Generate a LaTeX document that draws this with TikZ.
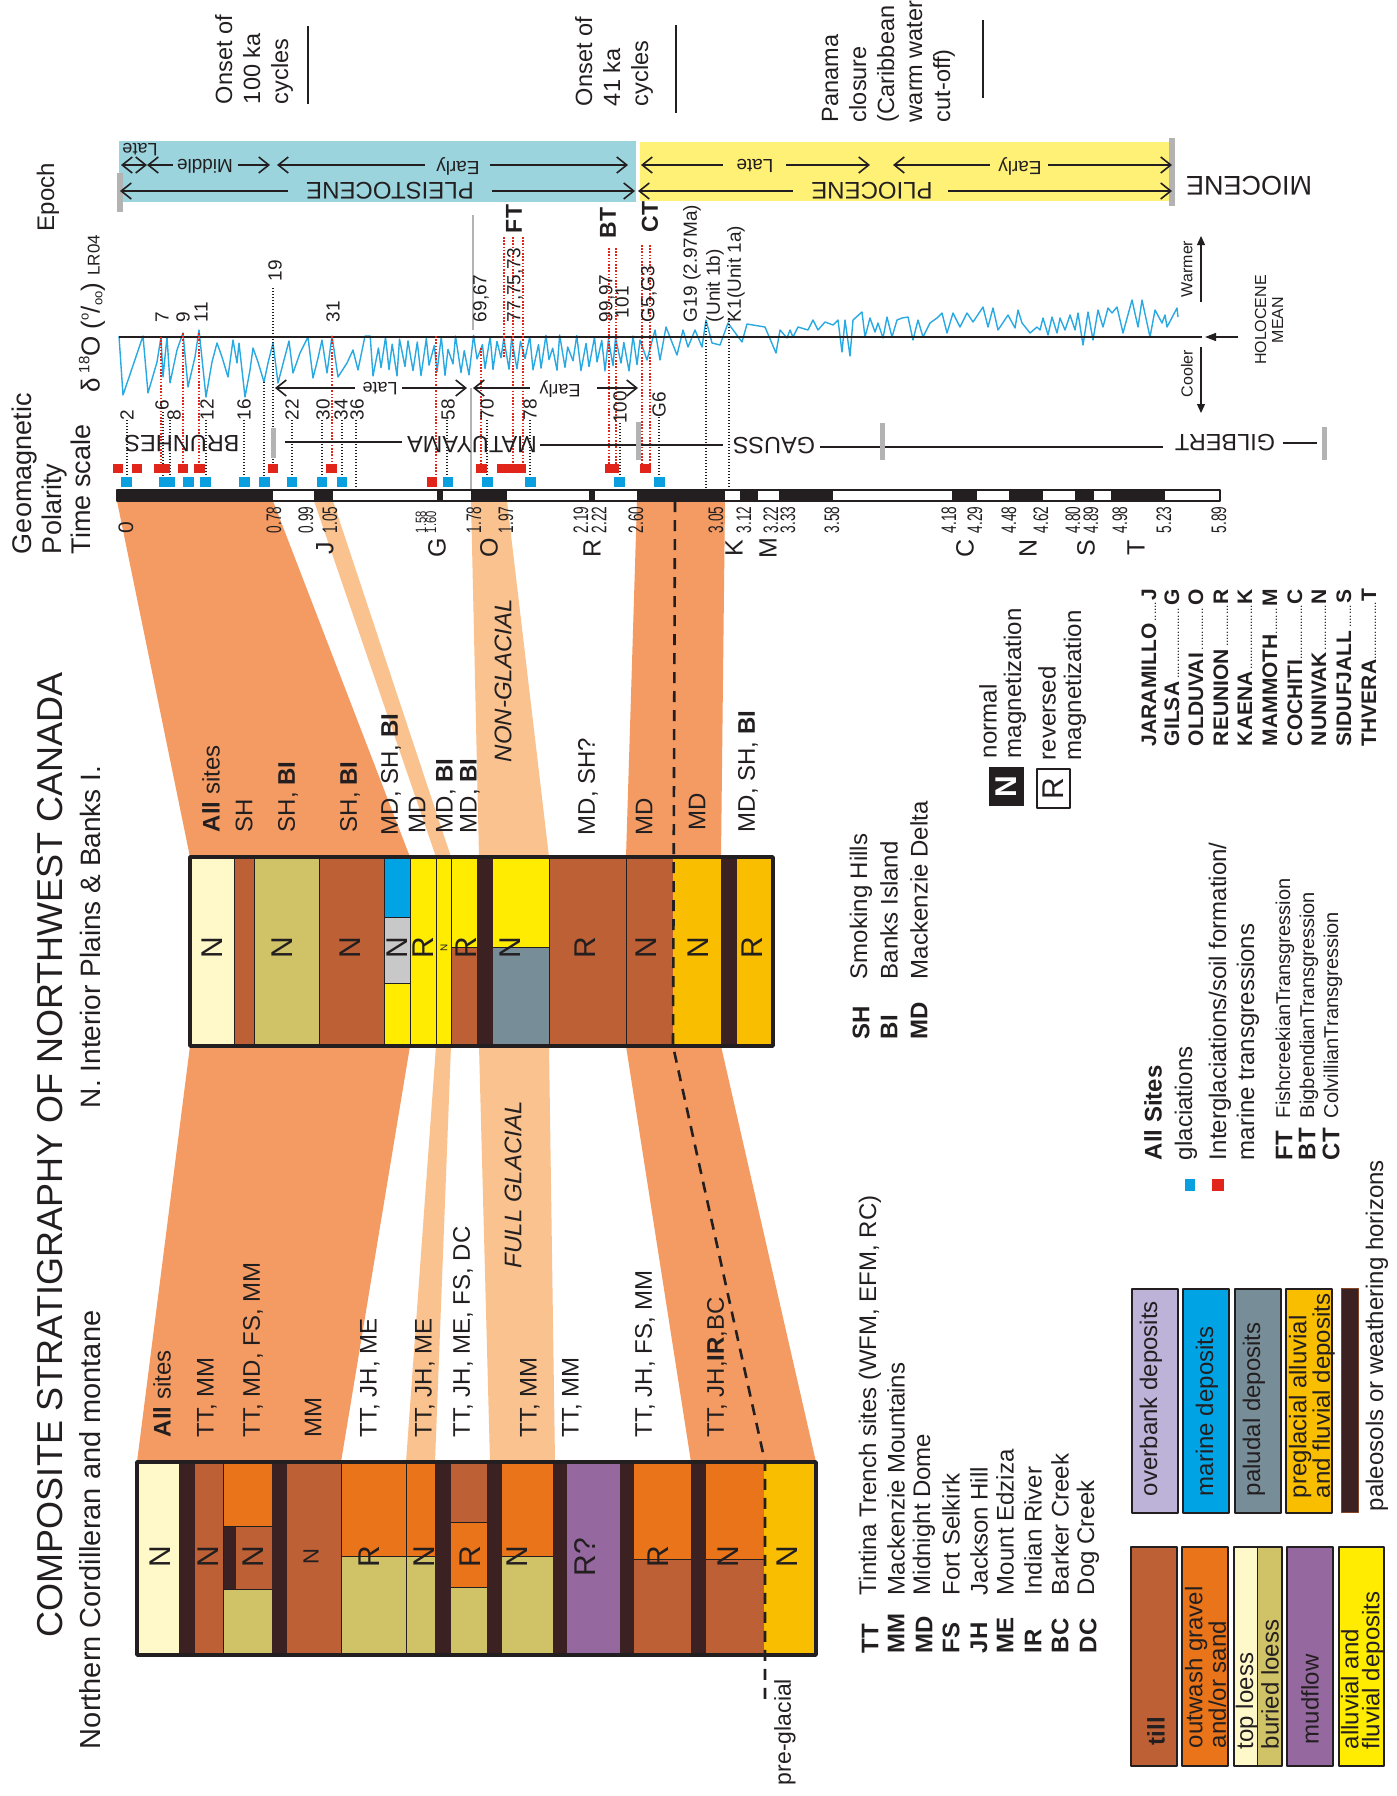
\documentclass[tikz,border=0pt]{standalone}
\usepackage{fontspec}
\setmainfont{Liberation Sans}
\usepackage{graphicx}
\usetikzlibrary{arrows.meta}
\newcommand{\fsz}[2]{\fontsize{#1pt}{#2pt}\selectfont}
\newcommand{\lead}{\leaders\hbox to 3.2pt{\hss\mdseries\fsz{12}{12}.\hss}\hfill}
\definecolor{ink}{HTML}{231F20}
\definecolor{bandD}{HTML}{F39B63}
\definecolor{bandL}{HTML}{F9C28E}
\definecolor{pleis}{HTML}{9BD4DD}
\definecolor{plio}{HTML}{FFF176}
\definecolor{curveB}{HTML}{29A9E1}
\definecolor{mblue}{HTML}{0AA0E0}
\definecolor{mred}{HTML}{E1251B}
\definecolor{till}{HTML}{BE6035}
\definecolor{outw}{HTML}{E97419}
\definecolor{loessT}{HTML}{FFF9CA}
\definecolor{loessB}{HTML}{CFC267}
\definecolor{mud}{HTML}{95689F}
\definecolor{alluv}{HTML}{FFEC00}
\definecolor{overb}{HTML}{BDB2D7}
\definecolor{marine}{HTML}{00A4E4}
\definecolor{palud}{HTML}{778E99}
\definecolor{pregl}{HTML}{F9BE00}
\definecolor{paleo}{HTML}{3B2122}
\definecolor{lgray}{HTML}{C8C8C8}
\definecolor{gbar}{HTML}{B3B3B3}
\tikzset{
 txb/.style={inner sep=0pt, outer sep=0pt, text=ink},
 txu/.style={txb, rotate=90, anchor=west},
 txc/.style={txb, rotate=90},
 txd/.style={txb, rotate=180},
 txm/.style={txb, rotate=90, anchor=north west, align=left},
 F/.style={font={\fsz{#1}{#1}}},
 FB/.style={font={\bfseries\fsz{#1}{#1}}},
 FI/.style={font={\itshape\fsz{#1}{#1}}},
 barbR/.style={ink, line width=1.6pt, -{Straight Barb[length=10pt,width=16pt]}},
 barbL/.style={ink, line width=1.6pt, {Straight Barb[length=10pt,width=16pt]}-},
 barbB/.style={ink, line width=1.6pt, {Straight Barb[length=10pt,width=16pt]}-{Straight Barb[length=10pt,width=16pt]}},
 dotk/.style={ink, line width=1.1pt, dash pattern=on 1.2pt off 1.8pt},
 dotr/.style={mred, line width=1.1pt, dash pattern=on 1.6pt off 1.6pt},
 thinl/.style={ink, line width=1pt},
 frame/.style={ink, line width=3.5pt},
 lbox/.style={draw=ink, line width=1.2pt},
}
\begin{document}
\begin{tikzpicture}[x=1pt,y=-1pt,line join=round]
\useasboundingbox (0,0) rectangle (1397,1796);
\fill[white] (0,0) rectangle (1397,1796);

% ================= headers =================
\node[txm,font={\fsz{27}{29.5}}] (hdrgeo) at (12,554) {Geomagnetic\\Polarity\\Time scale};
\node[txu,F=26] (hdrd) at (92,392) {δ\,\raisebox{0.75ex}{\fsz{15}{15}18}O (\raisebox{0.8ex}{\fsz{13}{13}o}/\raisebox{-0.2ex}{\fsz{13}{13}oo}) {\fsz{17}{17}LR04}};
\node[txc,F=24] (hdrep) at (48,197) {Epoch};

% ================= onset texts =================
\node[txm,font={\fsz{23.5}{28}}] (on100) at (215,104) {Onset of\\100 ka\\cycles};
\draw[ink,line width=2.5pt] (308,26) -- (308,104);
\node[txm,font={\fsz{23.5}{28}}] (on41) at (575,106) {Onset of\\41 ka\\cycles};
\draw[ink,line width=2.5pt] (676,25) -- (676,113);
\node[txm,font={\fsz{23.5}{28}}] (pan) at (822,122) {Panama\\closure\\(Caribbean\\warm water\\cut-off)};
\draw[ink,line width=2.5pt] (983,20) -- (983,98);

% ================= epoch bar =================
\fill[pleis] (119,141) rectangle (636,202);
\fill[plio] (640,142) rectangle (1170,201);
\fill[gbar] (117,173) rectangle (123,212);
\fill[gbar] (1169,138) rectangle (1175,206);
\node[txd,F=18] (epl) at (140,150) {Late};
\draw[barbB] (121,165) -- (147,165);
\draw[barbL] (147,165) -- (173,165);
\node[txd,F=19] (epm) at (205,166) {Middle};
\draw[barbR] (238,165) -- (270,165);
\draw[barbL] (277,165) -- (425,165);
\node[txd,F=19] (epe) at (458,166) {Early};
\draw[barbR] (490,165) -- (628,165);
\draw[barbL] (120,191) -- (288,191);
\node[txd,F=24] (epp) at (390,191) {PLEISTOCENE};
\draw[barbR] (492,191) -- (635,191);
\draw[barbL] (641,165) -- (723,165);
\node[txd,F=19] (ppl) at (755,166) {Late};
\draw[barbR] (786,165) -- (870,165);
\draw[barbL] (893,165) -- (990,165);
\node[txd,F=19] (ppe) at (1020,166) {Early};
\draw[barbR] (1048,165) -- (1172,165);
\draw[barbL] (638,191) -- (793,191);
\node[txd,F=24] (ppp) at (872,191) {PLIOCENE};
\draw[barbR] (948,191) -- (1172,191);
\node[txd,F=27] (mio) at (1249,186) {MIOCENE};

% ================= d18O =================
\draw[gbar,line width=2.5pt] (473,215) -- (473,330);
\draw[gbar,line width=2.5pt] (471,388) -- (471,490);
\draw[curveB,line width=1.4pt] (119,336) -- (123,395) -- (143,336) -- (148,393) -- (157,362) -- (161,337) -- (163,377) -- (167,337) -- (170,383) -- (177,350) -- (183,333) -- (188,387) -- (195,357) -- (199,330) -- (206,397) -- (212,362) -- (217,343) -- (222,357) -- (228,377) -- (233,340) -- (237,363) -- (239,343) -- (245,397) -- (250,370) -- (253,348) -- (258,362) -- (264,382) -- (268,363) -- (273,343) -- (278,383) -- (284,360) -- (289,341) -- (293,373) -- (300,353) -- (308,337) -- (313,378) -- (318,358) -- (322,340) -- (327,373) -- (332,336) -- (338,377) -- (347,363) -- (353,350) -- (358,370) -- (365,336)
 \foreach \k [evaluate=\k as \xa using 361+8*\k+1.5*sin(53*\k),
              evaluate=\k as \xb using 365+8*\k,
              evaluate=\k as \cc using 356-3*(\xb>470),
              evaluate=\k as \aa using 20-2*(\xb>470),
              evaluate=\k as \ya using \cc-\aa*(0.2+0.8*abs(sin(97.3*\k))),
              evaluate=\k as \yb using \cc+\aa*(0.25+0.75*abs(sin(61.7*\k+30)))] in {1,...,34} { -- (\xa,\ya) -- (\xb,\yb) }
 -- (640,340) -- (647,360) -- (655,330) -- (660,360) -- (666,327) -- (677,355) -- (683,330) -- (688,347) -- (695,330) -- (702,347) -- (706,320) -- (712,343) -- (720,345) -- (728,323) -- (742,342) -- (747,324) -- (765,327) -- (776,353) -- (780,330) -- (787,338) -- (790,330) -- (793,337) -- (798,327) -- (808,330) -- (813,320) -- (818,330) -- (825,322) -- (833,325) -- (838,320) -- (842,352) -- (845,320) -- (850,356) -- (853,320) -- (862,312) -- (865,337) -- (870,318) -- (875,332) -- (878,323) -- (883,338) -- (887,317) -- (892,337) -- (897,320) -- (902,318) -- (908,317) -- (913,340) -- (918,320) -- (923,337) -- (930,323) -- (937,318) -- (942,313) -- (947,333) -- (953,313) -- (960,327) -- (967,313) -- (973,322) -- (983,307) -- (988,327) -- (993,308) -- (998,330) -- (1008,315) -- (1015,328) -- (1018,310) -- (1022,323) -- (1030,333) -- (1037,327) -- (1040,330) -- (1043,318) -- (1048,335) -- (1052,317) -- (1057,333) -- (1060,318) -- (1065,330) -- (1070,315) -- (1075,330) -- (1078,313) -- (1083,345) -- (1088,312) -- (1093,340) -- (1098,310) -- (1103,327) -- (1108,308) -- (1112,313) -- (1117,307) -- (1123,333) -- (1132,300) -- (1138,327) -- (1142,300) -- (1150,337) -- (1155,310) -- (1162,323) -- (1165,315) -- (1167,327) -- (1177,308) -- (1178,317);
\draw[ink,line width=1.3pt] (119,337) -- (1202,337);
\draw[ink,line width=1.3pt,-{Triangle[length=9pt,width=8pt]}] (1201,302) -- (1201,236);
\draw[ink,line width=1.3pt,-{Triangle[length=9pt,width=8pt]}] (1201,347) -- (1201,413);
\draw[ink,line width=1.3pt,-{Triangle[length=11pt,width=8pt]}] (1238,337) -- (1205,337);
\node[txu,F=16] (warm) at (1187,297) {Warmer};
\node[txu,F=16] (cool) at (1187,397) {Cooler};
\node[txc,align=center,font={\fsz{16}{17}}] (holo) at (1269,320) {HOLOCENE\\MEAN};

% MIS dotted lines
\foreach \x/\a/\b in {161/337/464, 183/333/464, 199/333/464, 332/336/464, 436/336/477, 481/348/464, 504/237/358, 513/237/464, 523/237/464, 609/248/464, 616/248/464, 642/245/464, 650/245/464}
  \draw[dotr] (\x,\a) -- (\x,\b);
\foreach \x/\a/\b in {127/420/477, 163/412/477, 170/420/477, 206/420/477, 244/420/477, 264/382/477, 273/288/464, 292/420/477, 322/420/477, 342/420/477, 356/420/490, 447/420/477, 487/420/477, 530/420/477, 620/423/477, 659/417/477, 706/322/490, 729/318/490}
  \draw[dotk] (\x,\a) -- (\x,\b);
% MIS labels
\foreach \x/\y/\t in {162/322/7, 183/322/9, 201/322/11, 275/281/19, 333/322/31, 481/322/{69,67}, 515/322/{77,75,73}, 607/322/{99,97}, 622/318/101, 649/322/{G5,G3}, 692/322/{G19 (2.97Ma)}, 715/322/{(Unit 1b)}, 736/322/{K1(Unit 1a)}}
  \node[txu,F=19] at (\x,\y) {\t};
\foreach \x/\y/\t in {127/420/2, 162/410/6, 174/420/8, 207/420/12, 244/420/16, 292/420/22, 323/420/30, 341/420/34, 357/420/36, 448/420/58, 487/420/70, 530/420/78, 620/423/100, 659/417/G6}
  \node[txu,F=19] at (\x,\y) {\t};
\node[txu,FB=23] (ft) at (514,233) {FT};
\node[txu,FB=23] (bt) at (608,238) {BT};
\node[txu,FB=23] (ct) at (650,232) {CT};

% Matuyama late/early
\draw[barbL] (275,388) -- (355,388);
\node[txd,F=18] (mlate) at (380,389) {Late};
\draw[barbR] (402,388) -- (467,388);
\draw[barbL] (473,388) -- (530,388);
\node[txd,F=18] (mearly) at (560,389) {Early};
\draw[barbR] (597,388) -- (638,388);

% polarity chron labels
\node[txd,F=23.5] (bru) at (182,444) {BRUNHES};
\node[txd,F=23.5] (mat) at (472,444) {MATUYAMA};
\node[txd,F=23.5] (gau) at (774,446) {GAUSS};
\node[txd,F=23.5] (gil) at (1225,443) {GILBERT};
\draw[ink,line width=1.2pt] (285,442) -- (402,442);
\draw[ink,line width=1.2pt] (540,445) -- (723,445);
\draw[ink,line width=1.2pt] (820,447) -- (1163,447);
\draw[ink,line width=1.2pt] (1283,443) -- (1317,443);
\fill[gbar] (271,428) rectangle (276,458);
\fill[gbar] (636,422) rectangle (641,460);
\fill[gbar] (880,423) rectangle (885,460);
\fill[gbar] (1322,427) rectangle (1327,460);

% site markers
\foreach \a/\b in {113/123,132/142,154/170,178/188,194/205,268/278,326/337,476/487,497/526,605/619,640/651}
  \fill[mred] (\a,464) rectangle (\b,473);
\fill[mred] (427,477) rectangle (437,487);
\foreach \a/\b in {121/132,159/175,183/194,200/211,239/250,259/270,287/297,317/327,337/347,443/453,482/493,525/536,614/625,654/665}
  \fill[mblue] (\a,477) rectangle (\b,487);

% ================= bands =================
\fill[bandD] (117,501) -- (273,501) -- (410,857) -- (190,857) -- cycle;
\fill[bandD] (190,1046) -- (410,1046) -- (341,1462) -- (137,1462) -- cycle;
\fill[bandL] (314,501) -- (333,501) -- (451,857) -- (436,857) -- cycle;
\fill[bandL] (436,1046) -- (451,1046) -- (435,1462) -- (406,1462) -- cycle;
\fill[bandL] (471,501) -- (507,501) -- (549,857) -- (479,857) -- cycle;
\fill[bandL] (479,1046) -- (549,1046) -- (555,1462) -- (490,1462) -- cycle;
\fill[bandD] (637,501) -- (725,501) -- (721,857) -- (626,857) -- cycle;
\fill[bandD] (626,1046) -- (721,1046) -- (816,1462) -- (691,1462) -- cycle;

% ================= time bar =================
\fill[white] (117,490) rectangle (1220,501);
\foreach \a/\b in {117/273,314/333,437/443,471/507,589/595,637/725,740/758,779/833,952/977,1009/1043,1075/1094,1111/1165}
  \fill[ink] (\a,490) rectangle (\b,501);
\draw[ink,line width=1.2pt] (117,490) rectangle (1220,501);
\node[txu,F=21] at (126,533) {0};
\foreach \x/\t in {274/0.78,306/0.99,330/1.05,474/1.78,506/1.97,581/2.19,599/2.22,636/2.60,716/3.05,744/3.12,771/3.22,788/3.33,832/3.58,949/4.18,975/4.29,1009/4.48,1041/4.62,1073/4.80,1091/4.89,1120/4.98,1164/5.23,1219/5.89}
  \node[txu,F=21] at (\x,533) {\scalebox{0.65}[1]{\t}};
\node[txu,F=15] at (421,533) {\scalebox{0.75}[1]{1.58}};
\node[txu,F=15] at (431,533) {\scalebox{0.75}[1]{1.60}};
\foreach \x/\t in {325/J,437/G,489/O,592/R,734/K,768/M,965/C,1028/N,1086/S,1136/T}
  \node[txc,F=25] at (\x,548) {\t};

% ================= N. Interior column =================
\fill[loessT] (190,857) rectangle (234,1046);
\fill[till] (234,857) rectangle (254,1046);
\fill[loessB] (254,857) rectangle (319,1046);
\fill[till] (319,857) rectangle (384.5,1046);
\fill[marine] (384.5,857) rectangle (410,917);
\fill[lgray] (384.5,917) rectangle (410,983);
\fill[alluv] (384.5,983) rectangle (410,1046);
\fill[alluv] (410,857) rectangle (451.5,1046);
\fill[alluv] (451.5,857) rectangle (476.6,947);
\fill[till] (451.5,947) rectangle (476.6,1046);
\fill[paleo] (476.6,857) rectangle (493,1046);
\fill[alluv] (493,857) rectangle (549.4,947);
\fill[palud] (493,947) rectangle (549.4,1046);
\fill[till] (549.4,857) rectangle (673,1046);
\fill[pregl] (673,857) rectangle (721,1046);
\fill[paleo] (721,857) rectangle (737,1046);
\fill[pregl] (737,857) rectangle (773,1046);
\foreach \x in {234,254,319,384.5,410,436,451.5,549.4,626}
  \draw[thinl] (\x,857) -- (\x,1046);
\draw[thinl] (384.5,917) -- (410,917);
\draw[thinl] (384.5,983) -- (410,983);
\draw[thinl] (451.5,947) -- (476.6,947);
\draw[thinl] (493,947) -- (549.4,947);
\draw[frame] (190,857) rectangle (773,1046);
\foreach \x/\t in {212/N,282/N,350/N,397/N,423/R,466/R,510/N,585/R,646/N,698/N,752/R}
  \node[txc,F=30] at (\x,948) {\t};
\node[txc,F=10] at (444,948) {N};

% ================= Cordilleran column =================
\fill[loessT] (137,1462) rectangle (179,1655);
\fill[paleo] (179,1462) rectangle (195,1655);
\fill[till] (195,1462) rectangle (223,1655);
\fill[outw] (223,1462) rectangle (272,1526);
\fill[till] (223,1526) rectangle (272,1589);
\fill[paleo] (223,1527) rectangle (236,1590);
\fill[loessB] (223,1589) rectangle (272,1655);
\fill[paleo] (272,1462) rectangle (287,1655);
\fill[till] (287,1462) rectangle (341,1655);
\fill[outw] (341,1462) rectangle (435,1556);
\fill[loessB] (341,1556) rectangle (435,1655);
\fill[paleo] (435,1462) rectangle (451,1655);
\fill[till] (451,1462) rectangle (487,1522);
\fill[outw] (451,1522) rectangle (487,1587);
\fill[loessB] (451,1587) rectangle (487,1655);
\fill[paleo] (487,1462) rectangle (502,1655);
\fill[outw] (502,1462) rectangle (553,1556);
\fill[loessB] (502,1556) rectangle (553,1655);
\fill[paleo] (553,1462) rectangle (567,1655);
\fill[mud] (567,1462) rectangle (620,1655);
\fill[paleo] (620,1462) rectangle (634,1655);
\fill[outw] (634,1462) rectangle (691,1559);
\fill[till] (634,1559) rectangle (691,1655);
\fill[paleo] (691,1462) rectangle (706,1655);
\fill[outw] (706,1462) rectangle (764,1559);
\fill[till] (706,1559) rectangle (764,1655);
\fill[pregl] (764,1462) rectangle (816,1655);
\foreach \x in {223,341,406}
  \draw[thinl] (\x,1462) -- (\x,1655);
\draw[thinl] (223,1526) -- (272,1526);
\draw[thinl] (223,1589) -- (272,1589);
\draw[thinl] (341,1556) -- (435,1556);
\draw[thinl] (451,1522) -- (487,1522);
\draw[thinl] (451,1587) -- (487,1587);
\draw[thinl] (502,1556) -- (553,1556);
\draw[thinl] (634,1559) -- (691,1559);
\draw[thinl] (706,1559) -- (764,1559);
\draw[frame] (137,1462) rectangle (816,1655);
\foreach \x/\t in {160/N,208/N,253/N,369/R,424/N,470/R,517/N,585/R?,658/R,728/N,787/N}
  \node[txc,F=30] at (\x,1557) {\t};
\node[txc,F=22] at (311,1557) {N};

% dashed pre-glacial boundary
\draw[ink,line width=2.6pt,dash pattern=on 11pt off 8pt] (675,501) -- (673,1046) -- (765,1462) -- (765,1700);
\node[txu,F=23] (pregla) at (785,1785) {pre-glacial};

% ================= band labels =================
\node[txu,F=24] at (211,832) {\textbf{All} sites};
\node[txu,F=24] at (244,832) {SH};
\node[txu,F=24] at (288,832) {SH, \textbf{BI}};
\node[txu,F=24] at (350,832) {SH, \textbf{BI}};
\node[txu,F=24] at (391,835) {MD, SH, \textbf{BI}};
\node[txu,F=24] at (417,833) {MD};
\node[txu,F=24] at (446,833) {MD, \textbf{BI}};
\node[txu,F=24] at (470,833) {MD, \textbf{BI}};
\node[txu,FI=24] at (503,762) {NON-GLACIAL};
\node[txu,F=24] at (588,835) {MD, SH?};
\node[txu,F=24] at (644,835) {MD};
\node[txu,F=24] at (697,830) {MD};
\node[txu,F=24] at (748,832) {MD, SH, \textbf{BI}};

\node[txu,F=24] at (162,1437) {\textbf{All} sites};
\node[txu,F=24] at (207,1437) {TT, MM};
\node[txu,F=24] at (253,1437) {TT, MD, FS, MM};
\node[txu,F=24] at (313,1437) {MM};
\node[txu,F=24] at (370,1437) {TT, JH, ME};
\node[txu,F=24] at (425,1437) {TT, JH, ME};
\node[txu,F=24] at (463,1437) {TT, JH, ME, FS, DC};
\node[txu,FI=24] at (513,1268) {FULL GLACIAL};
\node[txu,F=24] at (530,1437) {TT, MM};
\node[txu,F=24] at (572,1437) {TT, MM};
\node[txu,F=24] at (645,1437) {TT, JH, FS, MM};
\node[txu,F=24] at (717,1437) {TT, JH,\textbf{IR},BC};

% ================= titles =================
\node[txu,F=36] (title) at (50,1637) {COMPOSITE STRATIGRAPHY OF NORTHWEST CANADA};
\node[txu,F=29] (subc) at (90,1749) {Northern Cordilleran and montane};
\node[txu,F=28] (subn) at (90,1108) {N. Interior Plains \& Banks I.};

% ================= legends =================
\node[txu,FB=24] at (861,1039) {SH};
\node[txu,F=24] at (861,979) {Smoking Hills};
\node[txu,FB=24] at (889,1039) {BI};
\node[txu,F=24] at (889,979) {Banks Island};
\node[txu,FB=24] at (919,1039) {MD};
\node[txu,F=24] at (919,979) {Mackenzie Delta};

\fill[ink] (989,767) rectangle (1024,806);
\node[txc,FB=30,text=white] (nbox) at (1006.5,787) {N};
\draw[ink,line width=1.3pt,fill=white] (1037,769) rectangle (1070,808);
\node[txc,F=30] (rbox) at (1053.5,789) {R};
\node[txu,F=24] at (988,758) {normal};
\node[txu,F=24] at (1015,758) {magnetization};
\node[txu,F=24] at (1047,760) {reversed};
\node[txu,F=24] at (1075,760) {magnetization};

\foreach \x/\n/\l in {1149/JARAMILLO/J,1172/GILSA/G,1196/OLDUVAI/O,1221/REUNION/R,1245/KAENA/K,1270/MAMMOTH/M,1295/COCHITI/C,1319/NUNIVAK/N,1344/SIDUFJALL/S,1369/THVERA/T}
  \node[txu,FB=21] at (\x,746) {\hbox to 157pt{\n\lead\l}};

\node[txu,FB=24] at (1153,1160) {All Sites};
\fill[mblue] (1185,1179) rectangle (1195,1191);
\fill[mred] (1212,1179) rectangle (1224,1191);
\node[txu,F=24] at (1186,1160) {glaciations};
\node[txu,F=24] at (1220,1160) {Interglaciations/soil formation/};
\node[txu,F=24] at (1248,1160) {marine transgressions};
\node[txu,FB=24] at (1284,1160) {FT};
\node[txu,FB=24] at (1307,1160) {BT};
\node[txu,FB=24] at (1331,1160) {CT};
\node[txu,F=20] at (1285,1118) {FishcreekianTransgression};
\node[txu,F=20] at (1309,1118) {BigbendianTransgression};
\node[txu,F=20] at (1333,1118) {ColvillianTransgression};

\node[txu,FB=24] at (870,1653) {TT};
\node[txu,FB=24] at (896,1653) {MM};
\node[txu,FB=24] at (924,1653) {MD};
\node[txu,FB=24] at (951,1653) {FS};
\node[txu,FB=24] at (979,1653) {JH};
\node[txu,FB=24] at (1005,1653) {ME};
\node[txu,FB=24] at (1033,1653) {IR};
\node[txu,FB=24] at (1060,1653) {BC};
\node[txu,FB=24] at (1088,1653) {DC};
\node[txu,F=24] at (870,1595) {Tintina Trench sites (WFM, EFM, RC)};
\node[txu,F=24] at (896,1595) {Mackenzie Mountains};
\node[txu,F=24] at (924,1595) {Midnight Dome};
\node[txu,F=24] at (951,1595) {Fort Selkirk};
\node[txu,F=24] at (979,1595) {Jackson Hill};
\node[txu,F=24] at (1005,1595) {Mount Edziza};
\node[txu,F=24] at (1033,1595) {Indian River};
\node[txu,F=24] at (1060,1595) {Barker Creek};
\node[txu,F=24] at (1088,1595) {Dog Creek};

% lithology boxes
\fill[till,lbox] (1131,1547) rectangle (1177,1766);
\fill[outw,lbox] (1182,1547) rectangle (1228,1766);
\fill[loessT] (1234,1547) rectangle (1257,1766);
\fill[loessB] (1257,1547) rectangle (1282,1766);
\draw[lbox] (1234,1547) rectangle (1282,1766);
\draw[thinl] (1257,1547) -- (1257,1766);
\fill[mud,lbox] (1287,1547) rectangle (1333,1766);
\fill[alluv,lbox] (1339,1547) rectangle (1384,1766);
\fill[overb,lbox] (1132,1289) rectangle (1178,1513);
\fill[marine,lbox] (1183,1289) rectangle (1229,1513);
\fill[palud,lbox] (1235,1289) rectangle (1281,1513);
\fill[pregl,lbox] (1286,1289) rectangle (1332,1513);
\fill[paleo,draw=till!70!black,line width=1pt] (1341,1288) rectangle (1358,1512);

\node[txu,FB=24] at (1156,1745) {till};
\node[txm,font={\fsz{24}{22}}] at (1185,1748) {outwash gravel\\and/or sand};
\node[txu,F=24] at (1247,1749) {top loess};
\node[txu,F=24] at (1270,1749) {buried loess};
\node[txu,F=24] at (1310,1744) {mudflow};
\node[txm,font={\fsz{24}{21}}] at (1341,1749) {alluvial and\\fluvial deposits};
\node[txu,F=24] at (1151,1496) {overbank deposits};
\node[txu,F=24] at (1207,1496) {marine deposits};
\node[txu,F=24] at (1254,1496) {paludal deposits};
\node[txm,font={\fsz{24}{21}}] at (1289,1498) {preglacial alluvial\\and fluvial deposits};
\node[txu,F=24] at (1377,1511) {paleosols or weathering horizons};
\end{tikzpicture}
\end{document}
